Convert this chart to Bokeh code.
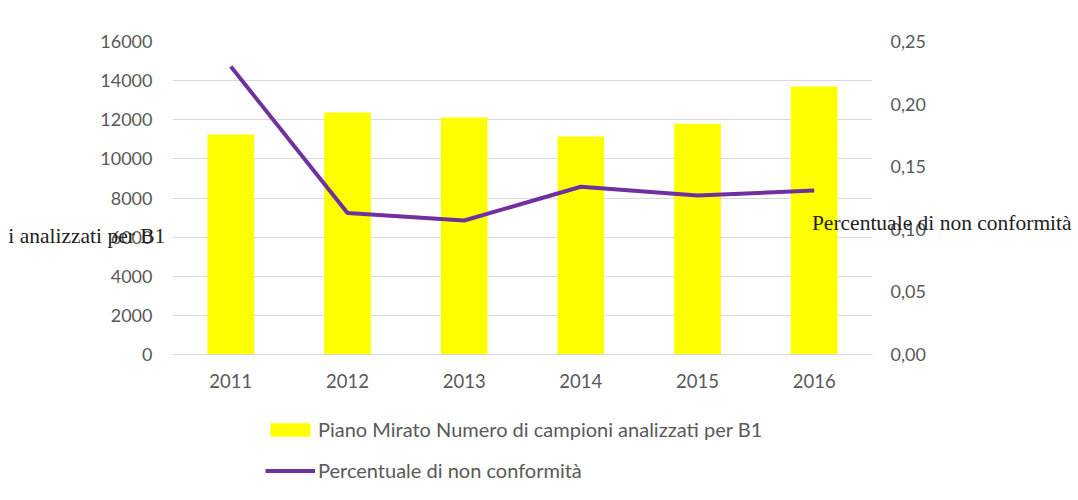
from bokeh.plotting import figure
from bokeh.layouts import column
from bokeh.models import (Range1d, FactorRange, LinearAxis, FixedTicker, CustomJSTickFormatter,
                          Legend, LegendItem, ColumnDataSource)
from bokeh.embed import file_html
from bokeh.resources import INLINE

years = ["2011", "2012", "2013", "2014", "2015", "2016"]
campioni = [11250, 12370, 12110, 11140, 11800, 13700]
percentuale = [0.230, 0.113, 0.107, 0.134, 0.127, 0.131]
left_ticks = [0, 2000, 4000, 6000, 8000, 10000, 12000, 14000, 16000]
right_ticks = [0.0, 0.05, 0.10, 0.15, 0.20, 0.25]
bar_label = "Piano Mirato Numero di campioni analizzati per B1"
line_label = "Percentuale di non conformità"
left_axis_title = "i analizzati per B1"
right_axis_title = "Percentuale di non conformità"

FONT = "Lato"
SERIF = "Liberation Serif"
GREY = "#595959"
YELLOW = "#FFFF00"
PURPLE = "#7030A0"

src = ColumnDataSource(dict(year=years, n=campioni, pct=percentuale))

# ---- main chart ----
p = figure(width=1076, height=400, output_backend="svg", toolbar_location=None,
           x_range=FactorRange(*years), y_range=Range1d(0, 16000),
           min_border_left=172, min_border_right=204, min_border_top=41, min_border_bottom=46)
p.extra_y_ranges = {"pct": Range1d(0, 0.25)}
p.outline_line_color = None

bars = p.vbar(x="year", top="n", width=0.4, source=src, color=YELLOW, line_color=None)
line = p.line(x="year", y="pct", source=src, y_range_name="pct", line_color=PURPLE, line_width=4)

p.xgrid.grid_line_color = None
p.ygrid.ticker = FixedTicker(ticks=left_ticks)
p.ygrid.grid_line_color = "#d9d9d9"

ya = p.yaxis[0]
ya.ticker = FixedTicker(ticks=left_ticks)
ya.axis_line_color = None
ya.major_tick_line_color = None
ya.major_tick_out = 0
ya.minor_tick_line_color = None
ya.minor_tick_out = 0
ya.major_label_standoff = 20
ya.major_label_text_font = FONT
ya.major_label_text_font_size = "18px"
ya.major_label_text_color = GREY
ya.axis_label = "\n" + left_axis_title
ya.axis_label_orientation = "horizontal"
ya.axis_label_standoff = -68
ya.axis_label_text_font = SERIF
ya.axis_label_text_font_style = "normal"
ya.axis_label_text_font_size = "21.5px"
ya.axis_label_text_color = "#222222"
ya.axis_label_text_line_height = 3.2

xa = p.xaxis[0]
xa.axis_line_color = "#d9d9d9"
xa.major_tick_line_color = None
xa.major_tick_out = 0
xa.major_label_standoff = 19
xa.major_label_text_font = FONT
xa.major_label_text_font_size = "18.5px"
xa.major_label_text_color = GREY

ra = LinearAxis(y_range_name="pct", ticker=FixedTicker(ticks=right_ticks),
                formatter=CustomJSTickFormatter(code="return tick.toFixed(2).replace('.', ',');"))
ra.axis_line_color = None
ra.major_tick_line_color = None
ra.major_tick_out = 0
ra.minor_tick_line_color = None
ra.minor_tick_out = 0
ra.major_label_standoff = 18
ra.major_label_text_font = FONT
ra.major_label_text_font_size = "18px"
ra.major_label_text_color = GREY
ra.axis_label = "\n" + right_axis_title
ra.axis_label_orientation = "horizontal"
ra.axis_label_standoff = -117
ra.axis_label_text_font = SERIF
ra.axis_label_text_font_style = "normal"
ra.axis_label_text_font_size = "21.5px"
ra.axis_label_text_color = "#222222"
ra.axis_label_text_line_height = 2.05
p.add_layout(ra, "right")

# ---- legend strip below the chart (its frame is aligned with the chart's frame) ----
lg = figure(width=1076, height=92, output_backend="svg", toolbar_location=None,
            x_range=FactorRange(*years), y_range=Range1d(1e6, 2e6), x_axis_type=None, y_axis_type=None,
            min_border_left=172, min_border_right=204, min_border_top=0, min_border_bottom=0)
lg.outline_line_color = None
lg.grid.visible = False
# key renderers: same data, far outside this strip's visible range so only the legend keys show
bars_key = lg.vbar(x="year", top="n", width=0.4, source=src, color=YELLOW, line_color=None)
line_key = lg.line(x="year", y="pct", source=src, line_color=PURPLE, line_width=4)

legend = Legend(items=[LegendItem(label=bar_label, renderers=[bars_key]),
                       LegendItem(label=line_label, renderers=[line_key])],
                location=(93, 10), orientation="vertical",
                glyph_width=50, glyph_height=17, label_standoff=3, spacing=17,
                label_height=24, padding=0, margin=0,
                border_line_alpha=0, background_fill_alpha=0,
                label_text_font=FONT, label_text_font_size="20px", label_text_color=GREY)
lg.add_layout(legend, "center")

open("out.html", "w").write(file_html(column(p, lg, spacing=0), INLINE))
